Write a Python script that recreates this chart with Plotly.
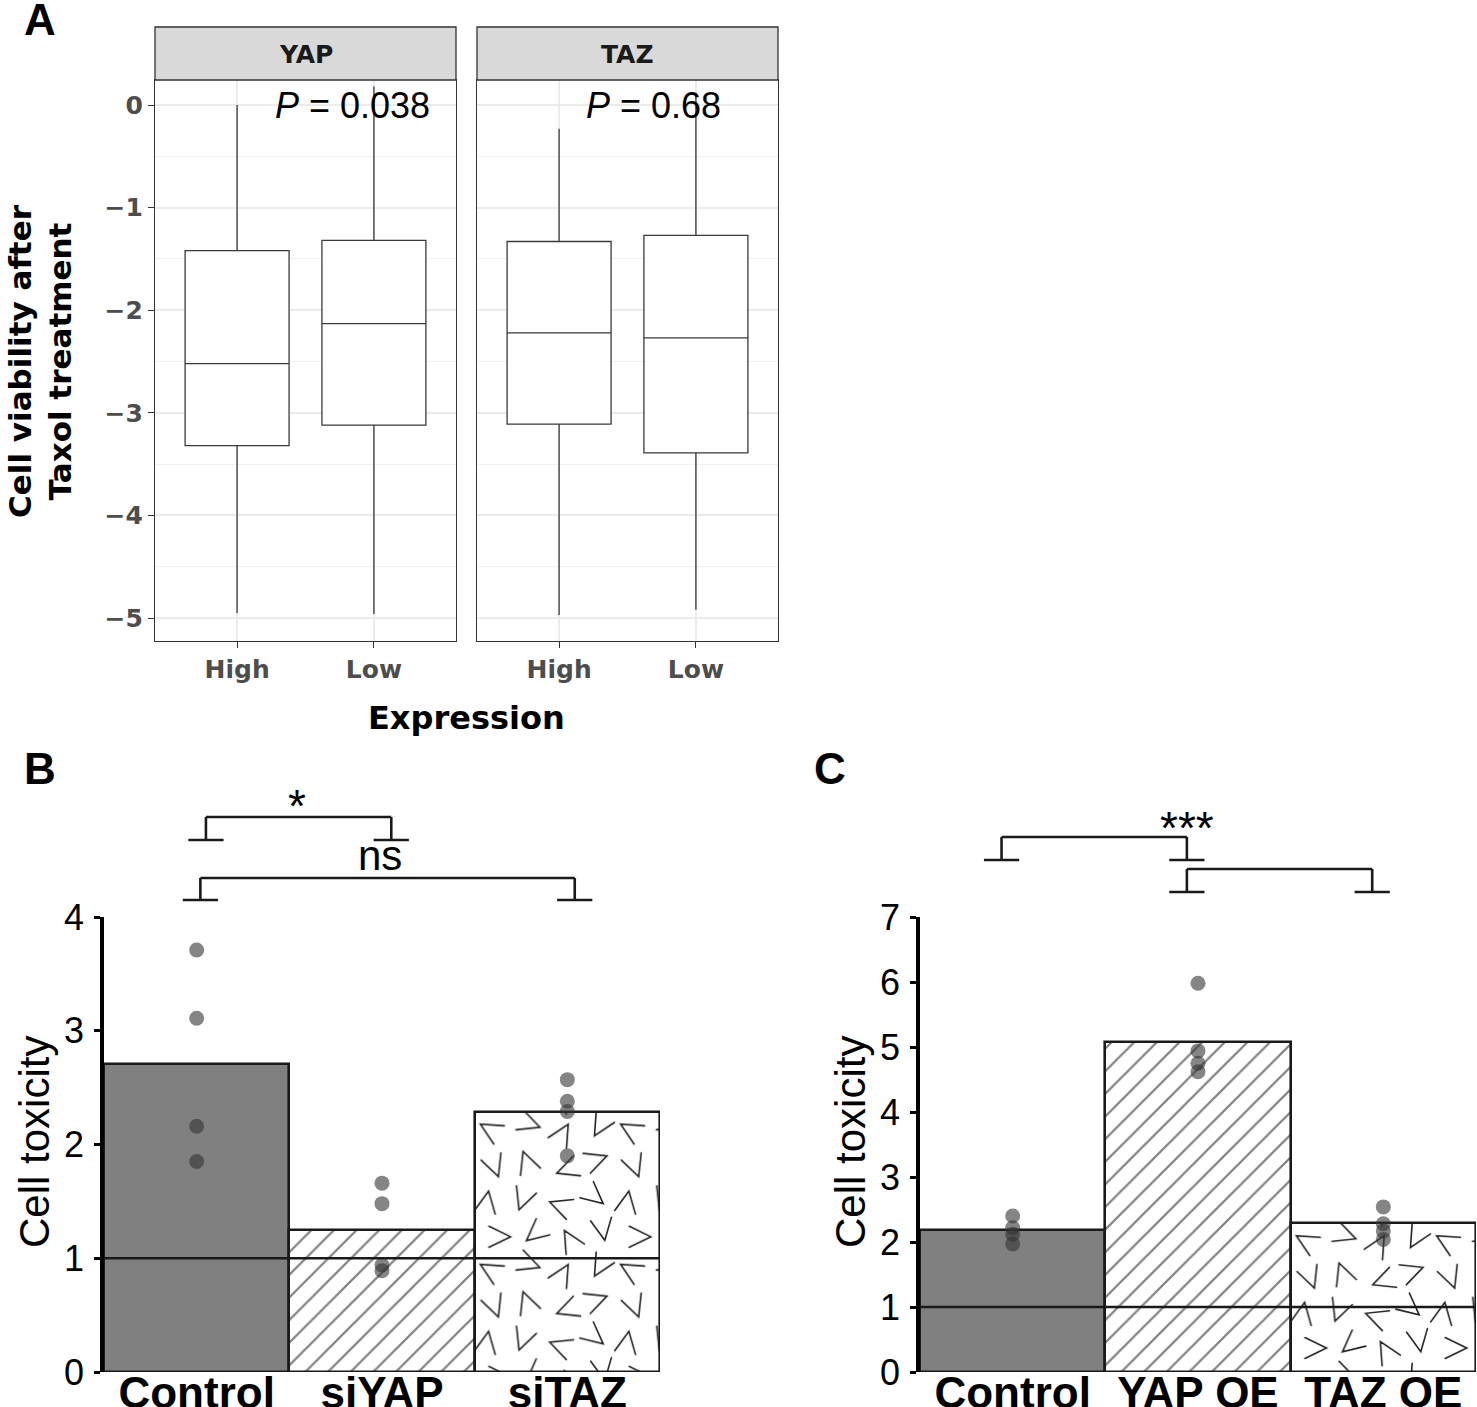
import base64
import math
import plotly.graph_objects as go

W, H = 1477, 1407

# ---------------- Panel A data (box summaries) ----------------
expr_levels = ["High", "Low"]
yap_q1 = [-3.32, -3.12]
yap_median = [-2.52, -2.13]
yap_q3 = [-1.42, -1.32]
yap_lower = [-4.95, -4.96]
yap_upper = [0.0, 0.18]
taz_q1 = [-3.11, -3.39]
taz_median = [-2.22, -2.27]
taz_q3 = [-1.33, -1.27]
taz_lower = [-4.97, -4.92]
taz_upper = [-0.23, 0.12]
strip_labels = ["YAP", "TAZ"]
p_values = ["0.038", "0.68"]
a_yticks = [0, -1, -2, -3, -4, -5]

# ---------------- Panel B data ----------------
b_groups = ["Control", "siYAP", "siTAZ"]
b_means = [2.71, 1.25, 2.29]
b_ctrl_pts = [3.71, 3.11, 2.16, 1.85]
b_siyap_pts = [1.66, 1.48, 0.94, 0.89]
b_sitaz_pts = [2.57, 2.38, 2.29, 1.90]
b_yticks = [0, 1, 2, 3, 4]

# ---------------- Panel C data ----------------
c_groups = ["Control", "YAP OE", "TAZ OE"]
c_means = [2.18, 5.08, 2.29]
c_ctrl_pts = [2.40, 2.22, 2.12, 1.97]
c_yapoe_pts = [5.98, 4.94, 4.75, 4.62]
c_tazoe_pts = [2.54, 2.28, 2.17, 2.04]
c_yticks = [0, 1, 2, 3, 4, 5, 6, 7]

baseline = 1

# ---------------- layout geometry (pixels) ----------------
def px(xp):
    return xp / W

def py(yp):
    return 1 - yp / H

A_TOP, A_BOT = 80, 641
A_L = (155, 456)
A_R = (477, 778)
STRIP_TOP = 27
BC_TOP, BC_BOT = 917, 1372
B_X = (104, 660)
C_X = (920, 1476)

BOLD_SANS = "DejaVu Sans"
ARIAL = "Liberation Sans"

fig = go.Figure()

# ---------------- Panel A boxes ----------------
for i, (q1, med, q3, lo, up) in enumerate([
        (yap_q1, yap_median, yap_q3, yap_lower, yap_upper),
        (taz_q1, taz_median, taz_q3, taz_lower, taz_upper)]):
    sfx = "" if i == 0 else "2"
    fig.add_trace(go.Box(
        x=expr_levels, q1=q1, median=med, q3=q3, lowerfence=lo, upperfence=up,
        boxpoints=False, width=0.76, whiskerwidth=0, fillcolor="white",
        line=dict(color="#3a3a3a", width=1.3),
        xaxis="x" + sfx, yaxis="y" + sfx, hoverinfo="skip"))

# ---------------- V pattern texture (SVG) ----------------
V_TILE = 140
v_marks = [(15, 18, 30), (55, 12, 200), (88, 22, 120), (125, 15, 300),
           (20, 55, 250), (52, 50, 70), (92, 58, 340), (122, 48, 160),
           (12, 90, 100), (48, 88, 290), (85, 94, 20), (120, 85, 220),
           (25, 125, 180), (60, 122, 320), (95, 128, 60), (128, 118, 260)]
ARM, HALF = 24, 26


def v_svg(wpx, hpx):
    d = []
    for (mx, my, ang) in v_marks:
        a = math.radians(ang)
        off = 0.5 * ARM * math.cos(math.radians(HALF))
        vx, vy = mx - off * math.cos(a), my - off * math.sin(a)
        for ox in (-V_TILE, 0, V_TILE):
            for oy in (-V_TILE, 0, V_TILE):
                cx, cy = vx + ox, vy + oy
                a1 = math.radians(ang - HALF)
                a2 = math.radians(ang + HALF)
                e1 = (cx + ARM * math.cos(a1), cy + ARM * math.sin(a1))
                e2 = (cx + ARM * math.cos(a2), cy + ARM * math.sin(a2))
                d.append("M%.1f,%.1fL%.1f,%.1fL%.1f,%.1f" % (e1[0], e1[1], cx, cy, e2[0], e2[1]))
    svg = ("<svg xmlns='http://www.w3.org/2000/svg' width='%d' height='%d' viewBox='0 0 %d %d' "
           "preserveAspectRatio='none'><defs><pattern id='v' width='%d' height='%d' "
           "patternUnits='userSpaceOnUse'><path d='%s' stroke='#222222' stroke-width='1.6' "
           "fill='none' stroke-linecap='round'/></pattern></defs>"
           "<rect width='100%%' height='100%%' fill='white'/>"
           "<rect width='100%%' height='100%%' fill='url(#v)'/></svg>") % (
        wpx, hpx, wpx, hpx, V_TILE, V_TILE, " ".join(d))
    return "data:image/svg+xml;base64," + base64.b64encode(svg.encode()).decode()


images = []


def add_bar_panel(groups, means, pts_list, xa, ya, xpx, yrange_top):
    fills = ["#808080", "white", "rgba(0,0,0,0)"]
    patterns = ["", "/", ""]
    for k, (g, m) in enumerate(zip(groups, means)):
        marker = dict(color=fills[k], line=dict(color="#1a1a1a", width=2.6))
        if patterns[k]:
            marker["pattern"] = dict(shape=patterns[k], fgcolor="#000000", bgcolor="white",
                                     size=16, solidity=0.14)
        fig.add_trace(go.Bar(x=[g], y=[m], width=1, marker=marker, xaxis=xa, yaxis=ya,
                             cliponaxis=False, hoverinfo="skip"))
    # V texture image under third bar
    px_per_unit = (BC_BOT - BC_TOP) / yrange_top
    bw = (xpx[1] - xpx[0]) / 3
    hpx = int(round(means[2] * px_per_unit))
    images.append(dict(source=v_svg(int(round(bw)), hpx), xref=xa, yref=ya,
                       x=2 - 0.5, y=means[2], sizex=1, sizey=means[2],
                       xanchor="left", yanchor="top", sizing="stretch", layer="below"))
    for g, pts in zip(groups, pts_list):
        fig.add_trace(go.Scatter(x=[g] * len(pts), y=pts, mode="markers",
                                 marker=dict(size=15, color="rgba(51,51,51,0.6)"),
                                 xaxis=xa, yaxis=ya, cliponaxis=False, hoverinfo="skip"))


add_bar_panel(b_groups, b_means, [b_ctrl_pts, b_siyap_pts, b_sitaz_pts], "x3", "y3", B_X, 4)
add_bar_panel(c_groups, c_means, [c_ctrl_pts, c_yapoe_pts, c_tazoe_pts], "x4", "y4", C_X, 7)

# ---------------- shapes ----------------
shapes = []
# strips
for (x0, x1) in (A_L, A_R):
    shapes.append(dict(type="rect", xref="paper", yref="paper", x0=px(x0), x1=px(x1),
                       y0=py(A_TOP), y1=py(STRIP_TOP), fillcolor="#D9D9D9",
                       line=dict(color="#333333", width=1.3), layer="above"))
# baselines at y=1
for xa, ya in (("x3", "y3"), ("x4", "y4")):
    shapes.append(dict(type="line", xref=xa, yref=ya, x0=-0.5, x1=2.5, y0=baseline, y1=baseline,
                       line=dict(color="#1a1a1a", width=2.6), layer="above"))


def bracket(xa, xl, xr, ytop, yfoot, foot=0.095):
    ln = dict(color="#1a1a1a", width=2.6)
    return [
        dict(type="line", xref=xa, yref="paper", x0=xl, x1=xr, y0=py(ytop), y1=py(ytop), line=ln),
        dict(type="line", xref=xa, yref="paper", x0=xl, x1=xl, y0=py(ytop), y1=py(yfoot), line=ln),
        dict(type="line", xref=xa, yref="paper", x0=xr, x1=xr, y0=py(ytop), y1=py(yfoot), line=ln),
        dict(type="line", xref=xa, yref="paper", x0=xl - foot, x1=xl + foot, y0=py(yfoot), y1=py(yfoot), line=ln),
        dict(type="line", xref=xa, yref="paper", x0=xr - foot, x1=xr + foot, y0=py(yfoot), y1=py(yfoot), line=ln),
    ]


shapes += bracket("x3", 0.05, 1.05, 817, 840)
shapes += bracket("x3", 0.02, 2.04, 878, 900)
shapes += bracket("x4", -0.06, 0.94, 837, 860)
shapes += bracket("x4", 0.94, 1.94, 869, 892)

# ---------------- annotations ----------------
ann = []


def note(text, x, y, font, xref="paper", yref="paper", **kw):
    d = dict(text=text, xref=xref, yref=yref, x=x, y=y, showarrow=False, font=font,
             xanchor="center", yanchor="middle")
    d.update(kw)
    ann.append(d)


for lbl, (x0, x1) in zip(strip_labels, (A_L, A_R)):
    note(lbl, px((x0 + x1) / 2), py((A_TOP + STRIP_TOP) / 2 + 1),
         dict(family=BOLD_SANS, size=25, color="#1a1a1a", weight="bold"))
note("<i>P</i> = " + p_values[0], px(352), 0, dict(family=ARIAL, size=36, color="black"), yref="y")
note("<i>P</i> = " + p_values[1], px(653), 0, dict(family=ARIAL, size=36, color="black"), yref="y2")
note("Cell viability after<br>Taxol treatment", px(40), py(361),
     dict(family=BOLD_SANS, size=31, color="black", weight="bold"), textangle=-90)
note("Expression", px(466), py(718), dict(family=BOLD_SANS, size=32, color="black", weight="bold"))
for t, (xx, yy) in zip(["A", "B", "C"], [(40, 20), (40, 768), (830, 768)]):
    note(t, px(xx), py(yy), dict(family=ARIAL, size=44, color="black", weight="bold"))
for xx in (34, 850):
    note("Cell toxicity", px(xx), py(1142), dict(family=ARIAL, size=42, color="black"), textangle=-90)
note("*", px(297), py(806), dict(family=ARIAL, size=46, color="black"))
note("ns", px(380), py(855), dict(family=ARIAL, size=42, color="black"))
note("***", px(1187), py(828), dict(family=ARIAL, size=46, color="black"))

# ---------------- axes ----------------
a_tickfont = dict(family=BOLD_SANS, size=25, color="#4D4D4D", weight="bold")
a_x_common = dict(type="category", categoryorder="array", categoryarray=expr_levels,
                  range=[-0.6, 1.6], showgrid=True, gridcolor="#EBEBEB", gridwidth=1.5,
                  ticks="outside", ticklen=6, tickwidth=1.3, tickcolor="#333333",
                  tickfont=a_tickfont, showline=True, mirror=True, linecolor="#333333",
                  linewidth=1.3, zeroline=False, automargin=False)
a_y_common = dict(range=[-5.224, 0.244], tickvals=a_yticks, showgrid=True, gridcolor="#EBEBEB",
                  gridwidth=1.5, minor=dict(dtick=0.5, tick0=0, showgrid=True, gridcolor="#F1F1F1",
                                            gridwidth=1),
                  showline=True, mirror=True, linecolor="#333333", linewidth=1.3, zeroline=False,
                  domain=[py(A_BOT), py(A_TOP)], automargin=False)

bc_x_common = dict(type="category", range=[-0.5, 2.5], showgrid=False, zeroline=False,
                   showline=False, ticks="", automargin=False, ticklabelstandoff=-9,
                   tickfont=dict(family=ARIAL, size=44, color="black", weight="bold"))
bc_y_common = dict(showgrid=False, zeroline=False, showline=True, linecolor="black", linewidth=3.5,
                   ticks="outside", ticklen=6, tickwidth=3, tickcolor="black", automargin=False,
                   ticklabelstandoff=3,
                   tickfont=dict(family=ARIAL, size=36, color="black"),
                   domain=[py(BC_BOT), py(BC_TOP)])

fig.update_layout(
    width=W, height=H, margin=dict(l=0, r=0, t=0, b=0, pad=0), autosize=False,
    paper_bgcolor="white", plot_bgcolor="rgba(0,0,0,0)", showlegend=False,
    barmode="overlay", bargap=0,
    xaxis=dict(domain=[px(A_L[0]), px(A_L[1])], anchor="y", **a_x_common),
    yaxis=dict(anchor="x", ticks="outside", ticklen=6, tickwidth=1.3, tickcolor="#333333",
               tickfont=a_tickfont, **a_y_common),
    xaxis2=dict(domain=[px(A_R[0]), px(A_R[1])], anchor="y2", **a_x_common),
    yaxis2=dict(anchor="x2", matches="y", showticklabels=False, ticks="", **a_y_common),
    xaxis3=dict(domain=[px(B_X[0]), px(B_X[1])], anchor="y3", **bc_x_common),
    yaxis3=dict(anchor="x3", range=[0, 4], tickvals=b_yticks, **bc_y_common),
    xaxis4=dict(domain=[px(C_X[0]), px(C_X[1])], anchor="y4", **bc_x_common),
    yaxis4=dict(anchor="x4", range=[0, 7], tickvals=c_yticks, **bc_y_common),
    shapes=shapes, annotations=ann, images=images,
)

fig.write_html("out.html", config={"displayModeBar": False},
               post_script="document.body.style.margin='0';document.body.style.overflow='hidden';")
